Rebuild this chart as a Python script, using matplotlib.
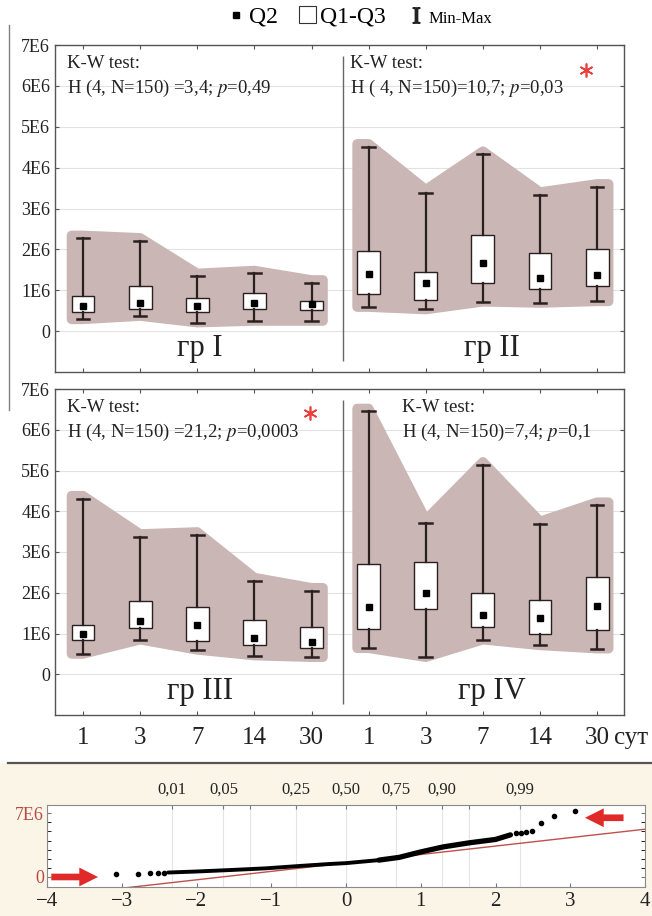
import numpy as np
import matplotlib
matplotlib.use('Agg')
import matplotlib.pyplot as plt
from matplotlib.lines import Line2D
from matplotlib.patches import Patch, Rectangle

plt.rcParams['font.family'] = ['Liberation Serif', 'DejaVu Serif']
plt.rcParams['mathtext.fontset'] = 'stix'

days = ['1', '3', '7', '14', '30']
group_names = ['гр I', 'гр II', 'гр III', 'гр IV']

# all values in units of 1E6
gr1_min = [0.29, 0.37, 0.21, 0.25, 0.25]
gr1_q1 = [0.47, 0.55, 0.46, 0.53, 0.51]
gr1_med = [0.62, 0.70, 0.62, 0.70, 0.66]
gr1_q3 = [0.86, 1.11, 0.82, 0.94, 0.74]
gr1_max = [2.27, 2.21, 1.34, 1.41, 1.18]

gr2_min = [0.59, 0.53, 0.72, 0.69, 0.73]
gr2_q1 = [0.92, 0.76, 1.17, 1.03, 1.10]
gr2_med = [1.39, 1.17, 1.66, 1.30, 1.38]
gr2_q3 = [1.96, 1.45, 2.35, 1.92, 2.00]
gr2_max = [4.51, 3.39, 4.33, 3.33, 3.53]

gr3_min = [0.50, 0.85, 0.60, 0.46, 0.42]
gr3_q1 = [0.85, 1.13, 0.81, 0.71, 0.64]
gr3_med = [0.99, 1.30, 1.21, 0.89, 0.79]
gr3_q3 = [1.20, 1.80, 1.66, 1.34, 1.17]
gr3_max = [4.31, 3.37, 3.42, 2.30, 2.05]

gr4_min = [0.64, 0.42, 0.85, 0.71, 0.63]
gr4_q1 = [1.12, 1.61, 1.17, 0.99, 1.09]
gr4_med = [1.64, 1.99, 1.46, 1.38, 1.68]
gr4_q3 = [2.70, 2.76, 1.99, 1.83, 2.38]
gr4_max = [6.45, 3.72, 5.14, 3.68, 4.15]

kw_lines = ['H (4, N=150) =3,4; $p$=0,49',
            'H ( 4, N=150)=10,7; $p$=0,03',
            'H (4, N=150) =21,2; $p$=0,0003',
            'H (4, N=150)=7,4; $p$=0,1']
kw_signif = [False, True, True, False]

# normal probability plot
qq_tail_z = [-3.08, -2.78, -2.62, -2.51, -2.43, 2.27, 2.34, 2.41, 2.49, 2.61, 2.78, 3.07]
qq_tail_v = [0.28, 0.38, 0.42, 0.45, 0.47, 4.80, 4.87, 4.95, 5.09, 5.90, 6.74, 7.25]
qq_band_z = [-2.38, -2.0, -1.5, -1.07, -0.6, -0.23, 0.0, 0.44]
qq_band_v = [0.49, 0.60, 0.78, 0.95, 1.22, 1.42, 1.52, 1.85]
qq_upper_z = [0.44, 0.71, 1.0, 1.3, 1.65, 2.0, 2.2]
qq_upper_v = [1.85, 2.15, 2.75, 3.30, 3.75, 4.12, 4.62]
fit_intercept = 1.54
fit_slope = 0.926
prob_z = [-2.33, -1.64, -1.28, -0.67, 0.0, 0.67, 1.28, 1.64, 2.33]
prob_lab = ['0,01', '0,05', '', '0,25', '0,50', '0,75', '0,90', '', '0,99']

shade = '#c9b6b5'
dark = '#2a2020'

W, H = 652, 916
fig = plt.figure(figsize=(W / 100, H / 100), dpi=100)


def fx(px):
    return px / W


def fy(py):
    return 1 - py / H


# cream band behind the probability plot
fig.add_artist(Rectangle((0, 0), 1, fy(763), transform=fig.transFigure,
                         facecolor='#fbf5e8', edgecolor='none', zorder=-5))
fig.add_artist(Line2D([fx(8), 1], [fy(763), fy(763)], color='#555555', lw=1.6))
fig.add_artist(Line2D([fx(9), fx(9)], [fy(25), fy(410)], color='#808080', lw=1))

ax_top = fig.add_axes([fx(55), fy(372), fx(624) - fx(55), fy(45) - fy(372)])
ax_bot = fig.add_axes([fx(55), fy(715), fx(624) - fx(55), fy(389) - fy(715)])


def envelope(ax, pos, lo, hi):
    x = np.concatenate([[pos[0] - 0.2], pos, [pos[-1] + 0.2]])
    top = np.concatenate([[hi[0]], hi, [hi[-1]]]) + 0.07
    bot = np.concatenate([[lo[0]], lo, [lo[-1]]]) - 0.0
    ax.fill(np.concatenate([x, x[::-1]]), np.concatenate([top, bot[::-1]]),
            facecolor=shade, edgecolor=shade, lw=7, joinstyle='round', zorder=1)


def draw_group(ax, pos, mn, q1, med, q3, mx):
    envelope(ax, pos, np.array(mn), np.array(mx))
    stats = [dict(med=m, q1=a, q3=b, whislo=lo, whishi=hi, fliers=[])
             for lo, a, m, b, hi in zip(mn, q1, med, q3, mx)]
    ax.bxp(stats, positions=pos, widths=0.4, capwidths=0.22, patch_artist=True,
           showfliers=False, manage_ticks=False,
           boxprops=dict(facecolor='white', edgecolor=dark, lw=1.0),
           whiskerprops=dict(color=dark, lw=1.6),
           capprops=dict(color=dark, lw=1.8),
           medianprops=dict(visible=False))
    ax.plot(pos, med, 's', color='black', ms=4, zorder=5)


rows = [(ax_top, [(gr1_min, gr1_q1, gr1_med, gr1_q3, gr1_max),
                  (gr2_min, gr2_q1, gr2_med, gr2_q3, gr2_max)]),
        (ax_bot, [(gr3_min, gr3_q1, gr3_med, gr3_q3, gr3_max),
                  (gr4_min, gr4_q1, gr4_med, gr4_q3, gr4_max)])]

for r, (ax, grp) in enumerate(rows):
    for g, vals in enumerate(grp):
        pos = np.arange(5) + 5 * g
        draw_group(ax, pos, *vals)
        k = 2 * r + g
        x0 = [0.021, 0.518, 0.021, 0.61][k]
        ax.text(x0, 0.944, 'K-W test:', transform=ax.transAxes, fontsize=13.5,
                va='center', ha='left', color='#222')
        ax.text(x0, 0.868, kw_lines[k], transform=ax.transAxes, fontsize=13.5,
                va='center', ha='left', color='#222')
        if kw_signif[k]:
            ax.plot([8.8, 3.98][r], 6.4, marker=(6, 2, 0), color='#e8403a',
                    ms=10, mew=1.2, zorder=6)
        ax.text(2.05 + 5.1 * g, -0.42, group_names[k], fontsize=22,
                ha='center', va='center', color='#222')
    ax.vlines(4.55, -0.72, 6.72, color='#666666', lw=1)
    ax.set_xlim(-0.49, 9.47)
    ax.set_ylim(-1, 7)
    ax.set_yticks(range(8))
    ax.set_yticklabels(['0'] + ['%dE6' % i for i in range(1, 8)])
    ax.set_xticks(range(10))
    ax.grid(axis='y', color='#e2e2e2', lw=0.8)
    ax.set_axisbelow(True)
    ax.tick_params(direction='in', top=True, right=True, length=3,
                   color='#555555', labelsize=13, labelcolor='#222')
    for s in ax.spines.values():
        s.set_color('#555555')
        s.set_linewidth(1)

ax_top.tick_params(labelbottom=False)
ax_bot.set_xticklabels(days * 2)
ax_bot.tick_params(axis='x', labelsize=18, pad=9)
ax_bot.text(9.3, -0.088, 'сут', transform=ax_bot.get_xaxis_transform(),
            fontsize=18, ha='left', va='baseline', color='#222')

# legend
handles = [Line2D([], [], ls='none', marker='s', color='black', ms=4),
           Patch(facecolor='white', edgecolor='#333333', lw=0.8),
           Line2D([], [], ls='none', marker='$\\mathrm{I}$', color='#222', ms=11)]
leg = fig.legend(handles, ['Q2', 'Q1-Q3', 'Min-Max'], loc='center',
                 bbox_to_anchor=(fx(360), fy(17)), ncol=3, frameon=False,
                 fontsize=17, handlelength=0.7, handletextpad=0.2,
                 columnspacing=0.9)
leg.get_texts()[2].set_fontsize(12)

# probability plot
ax_q = fig.add_axes([fx(47), fy(887), fx(645) - fx(47), fy(805) - fy(887)])
ax_q.set_facecolor('white')
for z in prob_z:
    ax_q.axvline(z, color='#e4e4e4', lw=0.8, zorder=0)
zz = np.array([-4.0, 4.0])
ax_q.plot(zz, fit_intercept + fit_slope * zz, color='#c0504d', lw=1, zorder=2)
ax_q.plot(qq_band_z, qq_band_v, color='black', lw=2.8, solid_capstyle='round',
          zorder=3)
ax_q.plot(qq_upper_z, qq_upper_v, color='black', lw=3.8, solid_capstyle='round',
          zorder=3)
ax_q.plot(qq_tail_z, qq_tail_v, 'o', color='black', ms=3, zorder=3)
arrow = dict(arrowstyle='simple,head_width=0.9,head_length=0.9,tail_width=0.32',
             color='#e02a2a', lw=0, mutation_scale=15)
ax_q.annotate('', xy=(-3.28, 0.0), xytext=(-3.98, 0.0), arrowprops=arrow)
ax_q.annotate('', xy=(3.16, 6.5), xytext=(3.75, 6.5), arrowprops=arrow)
ax_q.set_xlim(-4, 4)
ax_q.set_ylim(-1.1, 7.9)
ax_q.set_xticks(range(-4, 5))
ax_q.set_yticks([0, 7])
ax_q.set_yticklabels(['0', '7E6'])
ax_q.set_yticks(range(1, 7), minor=True)
ax_q.tick_params(direction='in', top=False, right=True, length=3,
                 color='#777777', labelsize=15, labelcolor='#222')
ax_q.tick_params(axis='y', which='both', direction='in', right=True, length=3,
                 labelsize=13, labelcolor='#b84a44', pad=2)
for s in ax_q.spines.values():
    s.set_color('#8a8a8a')
top = ax_q.secondary_xaxis('top')
top.set_xticks(prob_z)
top.set_xticklabels(prob_lab)
top.tick_params(direction='in', length=3, color='#777777', labelsize=12,
                labelcolor='#222', pad=5)
top.spines['top'].set_visible(False)

fig.savefig('out.png', dpi=100)
